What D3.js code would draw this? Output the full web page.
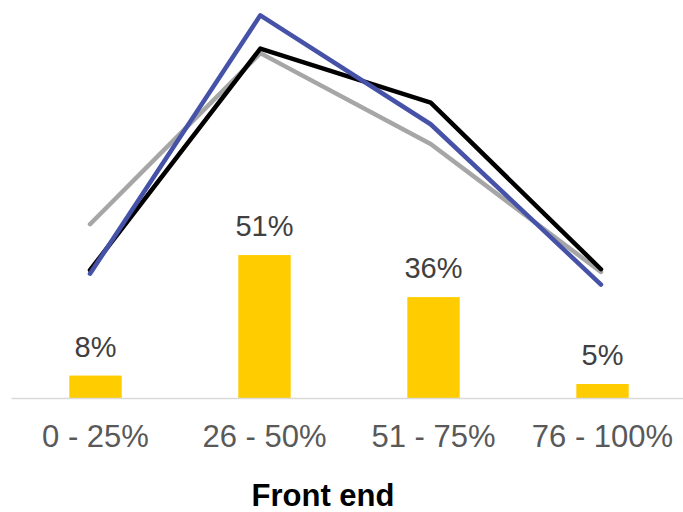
<!DOCTYPE html>
<html>
<head>
<meta charset="utf-8">
<script src="https://cdn.jsdelivr.net/npm/d3@7/dist/d3.min.js"></script>
<style>
  html, body { margin: 0; padding: 0; background: #fff; }
  svg { display: block; font-family: "Liberation Sans", Arial, sans-serif; }
</style>
</head>
<body>
<svg id="chart" width="683" height="512"></svg>
<script>
// Share of respondents per completion bucket (bars)
const categories = ["0 - 25%", "26 - 50%", "51 - 75%", "76 - 100%"];
const barValues = [8, 51, 36, 5];

// Comparison series on the secondary (hidden) axis
const seriesBlack = [14.2, 38.8, 32.8, 14.3];
const seriesBlue = [13.8, 42.5, 30.4, 12.6];
const seriesGray = [19.3, 38.3, 28.2, 14.0];

const title = "Front end";

const svg = d3.select("#chart");
const baseY = 398;

const x = d3.scaleBand()
  .domain(categories)
  .range([11, 687])
  .paddingInner(0.69)
  .paddingOuter(0.345);

const xLine = d3.scalePoint()
  .domain(categories)
  .range([90, 601]);

const yBar = d3.scaleLinear().domain([0, 142]).range([baseY, 0]);
const yLine = d3.scaleLinear().domain([0, 44.2]).range([baseY, 0]);

// Bars
svg.append("g").selectAll("rect")
  .data(barValues)
  .join("rect")
  .attr("x", (d, i) => x(categories[i]))
  .attr("y", d => yBar(d))
  .attr("width", x.bandwidth())
  .attr("height", d => baseY - yBar(d))
  .attr("fill", "#ffcc00");

// Bar value labels
svg.append("g").selectAll("text")
  .data(barValues)
  .join("text")
  .attr("x", (d, i) => x(categories[i]) + x.bandwidth() / 2)
  .attr("y", d => yBar(d) - 19)
  .attr("text-anchor", "middle")
  .attr("font-size", 29)
  .attr("fill", "#404040")
  .text(d => d + "%");

// Category axis
const axis = svg.append("g")
  .attr("transform", `translate(0,${baseY})`)
  .call(d3.axisBottom(x).tickSize(0).tickPadding(0));
axis.select(".domain")
  .attr("stroke", "#d9d9d9")
  .attr("stroke-width", 1.5);
axis.selectAll(".tick text")
  .attr("dy", null)
  .attr("y", 49)
  .attr("font-size", 31)
  .attr("font-family", '"Liberation Sans", Arial, sans-serif')
  .attr("fill", "#595959");

// Lines
const line = d3.line()
  .x((d, i) => xLine(categories[i]))
  .y(d => yLine(d));

[[seriesGray, "#a6a6a6"], [seriesBlack, "#000000"], [seriesBlue, "#4652a8"]]
  .forEach(([vals, color]) => {
    svg.append("path")
      .datum(vals)
      .attr("d", line)
      .attr("fill", "none")
      .attr("stroke", color)
      .attr("stroke-width", 4.5)
      .attr("stroke-linejoin", "round")
      .attr("stroke-linecap", "round");
  });

// Axis title
svg.append("text")
  .attr("x", 323)
  .attr("y", 506)
  .attr("text-anchor", "middle")
  .attr("font-size", 31)
  .attr("font-weight", "bold")
  .attr("fill", "#000")
  .text(title);
</script>
</body>
</html>
